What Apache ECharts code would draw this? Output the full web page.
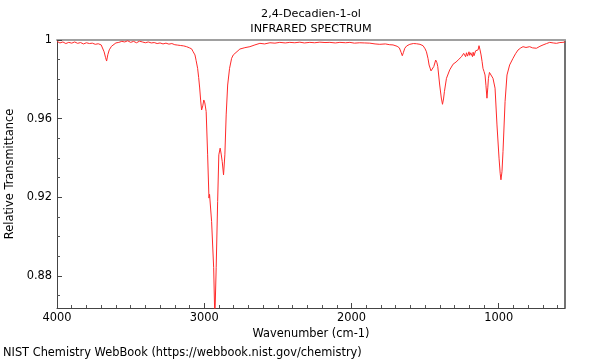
<!DOCTYPE html>
<html>
<head>
<meta charset="utf-8">
<script src="https://cdn.jsdelivr.net/npm/echarts@6.0.0/dist/echarts.min.js"></script>
<style>html,body{margin:0;padding:0;background:#fff;}#chart{width:600px;height:360px;}</style>
</head>
<body>
<div id="chart"></div>
<script>
const titleText = "2,4-Decadien-1-ol";
const subtitleText = "INFRARED SPECTRUM";
const footerText = "NIST Chemistry WebBook (https://webbook.nist.gov/chemistry)";
const xName = "Wavenumber (cm-1)";
const yName = "Relative Transmittance";

const xMajorTicks = [1000, 2000, 3000, 4000];
const xMinorTicks = [600,700,800,900,1100,1200,1300,1400,1500,1600,1700,1800,1900,2100,2200,2300,2400,2500,2600,2700,2800,2900,3100,3200,3300,3400,3500,3600,3700,3800,3900];
const yMajorTicks = [0.88, 0.92, 0.96, 1];
const yMinorTicks = [0.87,0.89,0.90,0.91,0.93,0.94,0.95,0.97,0.98,0.99];

const wavenumbers = [
4000,3980,3960,3940,3920,3900,3880,3860,3840,3820,3800,3780,3760,3740,3720,3700,3690,3680,3670,3663,3655,3645,3630,3620,3600,3580,3560,3540,3520,3500,3480,3460,3440,3420,3400,3380,3360,3340,3320,3300,3280,3260,3240,3220,3200,3180,3160,3140,3120,3100,3086,3075,3063,3055,3045,3038,3031,3024,3018,3010,3003,2996,2987,2977,2968,2964,2960,2950,2936,2928,2919,2909,2901,2892,2885,2878,2869,2860,2851,2841,2828,2814,2803,2792,2758,2724,2690,2656,2622,2590,2554,2520,2487,2450,2419,2385,2351,2320,2283,2250,2215,2180,2147,2110,2079,2040,2011,1980,1944,1910,1876,1840,1808,1770,1740,1718,1690,1675,1662,1655,1648,1638,1625,1604,1580,1559,1535,1514,1500,1491,1480,1473,1460,1450,1441,1428,1420,1414,1401,1390,1382,1375,1369,1355,1333,1310,1290,1276,1265,1253,1245,1238,1231,1225,1219,1212,1208,1202,1197,1190,1185,1178,1174,1168,1163,1157,1150,1147,1140,1134,1127,1120,1113,1107,1100,1093,1087,1080,1074,1070,1063,1057,1050,1039,1025,1012,998,990,985,978,971,957,944,926,903,886,869,850,835,815,790,770,744,720,699,675,654,630,608,585,564,556,550
];
const transmittance = [
0.9993,0.9985,0.9990,0.9982,0.9988,0.9984,0.9990,0.9983,0.9987,0.9980,0.9986,0.9982,0.9984,0.9978,0.9981,0.9975,0.9965,0.9940,0.9910,0.9893,0.9925,0.9950,0.9968,0.9978,0.9985,0.9988,0.9993,0.9990,0.9996,0.9988,0.9993,0.9986,0.9994,0.9990,0.9986,0.9990,0.9985,0.9987,0.9982,0.9985,0.9980,0.9984,0.9979,0.9982,0.9976,0.9974,0.9972,0.9970,0.9966,0.9960,0.9955,0.9940,0.9924,0.9895,0.9856,0.9810,0.9756,0.9690,0.9644,0.9665,0.9695,0.9680,0.9636,0.9416,0.9196,0.9215,0.9213,0.9077,0.8842,0.8580,0.8842,0.9179,0.9416,0.9450,0.9420,0.9382,0.9314,0.9416,0.9619,0.9771,0.9856,0.9907,0.9924,0.9932,0.9954,0.9961,0.9966,0.9975,0.9983,0.9980,0.9986,0.9984,0.9988,0.9985,0.9988,0.9986,0.9989,0.9985,0.9988,0.9986,0.9989,0.9987,0.9988,0.9985,0.9988,0.9986,0.9988,0.9984,0.9986,0.9985,0.9984,0.9980,0.9978,0.9980,0.9976,0.9975,0.9968,0.9960,0.9935,0.9920,0.9935,0.9958,0.9970,0.9978,0.9982,0.9981,0.9978,0.9971,0.9955,0.9940,0.9905,0.9873,0.9843,0.9852,0.9865,0.9898,0.9885,0.9865,0.9771,0.9705,0.9673,0.9700,0.9737,0.9805,0.9848,0.9877,0.9888,0.9898,0.9900,0.9915,0.9905,0.9932,0.9940,0.9915,0.9935,0.9918,0.9920,0.9940,0.9922,0.9935,0.9932,0.9915,0.9938,0.9920,0.9924,0.9945,0.9935,0.9940,0.9950,0.9971,0.9950,0.9924,0.9890,0.9856,0.9840,0.9822,0.9770,0.9704,0.9760,0.9805,0.9835,0.9839,0.9825,0.9805,0.9755,0.9568,0.9399,0.9320,0.9289,0.9330,0.9433,0.9687,0.9822,0.9873,0.9907,0.9930,0.9949,0.9960,0.9966,0.9962,0.9966,0.9960,0.9958,0.9968,0.9975,0.9982,0.9988,0.9985,0.9983,0.9987,0.9988,0.9982,0.9990
];

const seriesData = wavenumbers.map((w, i) => [w, transmittance[i]]);
const FONT = "DejaVu Sans";
const FS = 11.4;
const xMin = 550, xMax = 4000, yMin = 0.8637, yMax = 1;

const chart = echarts.init(document.getElementById('chart'), null, {renderer: 'canvas'});
chart.setOption({
  animation: false,
  backgroundColor: '#fff',
  textStyle: {fontFamily: FONT},
  grid: {left: 57, right: 35, top: 40, bottom: 52, containLabel: false, outerBoundsMode: 'none'},
  graphic: [
    {type: 'text', x: 311, y: 14, style: {text: titleText, font: '11.2px "DejaVu Sans"', fill: '#000', align: 'center', verticalAlign: 'middle'}},
    {type: 'text', x: 311, y: 29.5, style: {text: subtitleText, font: '11.2px "DejaVu Sans"', fill: '#000', align: 'center', verticalAlign: 'middle'}},
    {type: 'text', x: 3, y: 353, style: {text: footerText, font: FS + 'px "DejaVu Sans"', fill: '#000', align: 'left', verticalAlign: 'middle'}}
  ],
  xAxis: [
    {
      type: 'value', position: 'bottom', min: xMin, max: xMax, inverse: true,
      name: xName, nameLocation: 'middle', nameGap: 18,
      nameTextStyle: {fontFamily: FONT, fontSize: FS, color: '#000'},
      axisLine: {show: true, lineStyle: {color: '#444', width: 1}},
      axisTick: {show: true, inside: true, length: 5, customValues: xMajorTicks, lineStyle: {color: '#444'}},
      axisLabel: {show: true, customValues: xMajorTicks, margin: 5, fontFamily: FONT, fontSize: FS, color: '#000',
        formatter: v => String(Math.round(v))},
      splitLine: {show: false}
    },
    {
      type: 'value', position: 'bottom', min: xMin, max: xMax, inverse: true,
      axisLine: {show: false},
      axisTick: {show: true, inside: true, length: 3, customValues: xMinorTicks, lineStyle: {color: '#555'}},
      axisLabel: {show: false},
      splitLine: {show: false}
    },
    {
      type: 'value', position: 'top', min: xMin, max: xMax, inverse: true,
      axisLine: {show: true, lineStyle: {color: '#a0a0a0', width: 2}},
      axisTick: {show: false}, axisLabel: {show: false}, splitLine: {show: false}
    }
  ],
  yAxis: [
    {
      type: 'value', position: 'left', min: yMin, max: yMax,
      name: yName, nameLocation: 'middle', nameGap: 40,
      nameTextStyle: {fontFamily: FONT, fontSize: FS, color: '#000'},
      axisLine: {show: true, lineStyle: {color: '#444', width: 1}},
      axisTick: {show: true, inside: true, length: 5, customValues: yMajorTicks, lineStyle: {color: '#444'}},
      axisLabel: {show: true, customValues: yMajorTicks, margin: 5, fontFamily: FONT, fontSize: FS, color: '#000',
        formatter: v => String(+v.toFixed(4))},
      splitLine: {show: false}
    },
    {
      type: 'value', position: 'left', min: yMin, max: yMax,
      axisLine: {show: false},
      axisTick: {show: true, inside: true, length: 3, customValues: yMinorTicks, lineStyle: {color: '#555'}},
      axisLabel: {show: false},
      splitLine: {show: false}
    },
    {
      type: 'value', position: 'right', min: yMin, max: yMax,
      axisLine: {show: true, lineStyle: {color: '#444', width: 1.5}},
      axisTick: {show: false}, axisLabel: {show: false}, splitLine: {show: false}
    }
  ],
  series: [{
    type: 'line', xAxisIndex: 0, yAxisIndex: 0, data: seriesData,
    showSymbol: false, symbol: 'none', clip: true,
    lineStyle: {color: '#ff2a2a', width: 1},
    silent: true
  }]
});
</script>
</body>
</html>
